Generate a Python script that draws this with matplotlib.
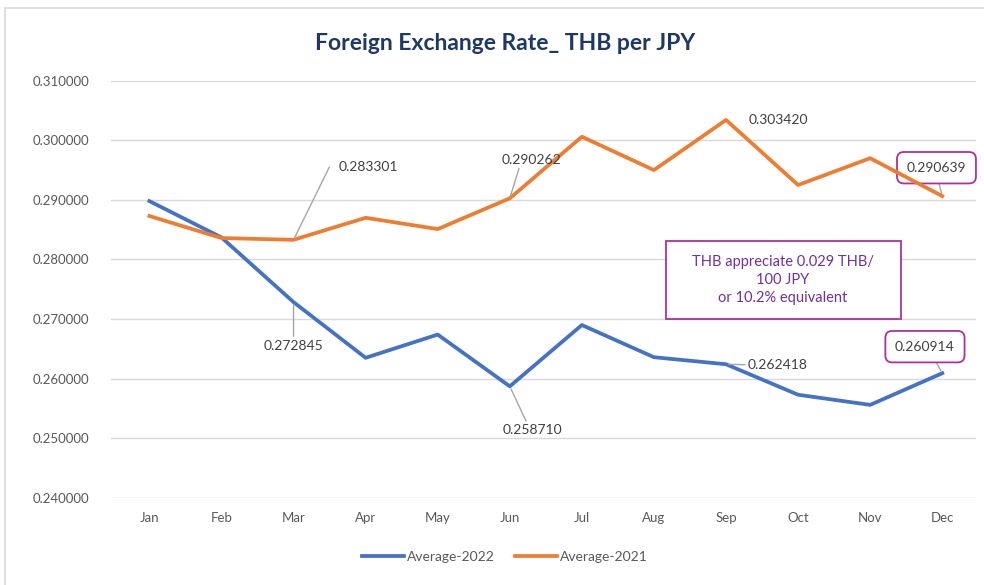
import numpy as np
import matplotlib.pyplot as plt
from matplotlib.patches import Rectangle

plt.rcParams['font.family'] = ['Lato', 'DejaVu Sans']

# data
months = ['Jan', 'Feb', 'Mar', 'Apr', 'May', 'Jun', 'Jul', 'Aug', 'Sep', 'Oct', 'Nov', 'Dec']
avg_2022 = [0.28980, 0.28370, 0.272845, 0.26350, 0.26740, 0.258710,
            0.26900, 0.26360, 0.262418, 0.25730, 0.25560, 0.260914]
avg_2021 = [0.28730, 0.28360, 0.283301, 0.28700, 0.28510, 0.290262,
            0.30060, 0.29500, 0.303420, 0.29250, 0.29700, 0.290639]
yticks = [0.24, 0.25, 0.26, 0.27, 0.28, 0.29, 0.30, 0.31]

blue = '#4472C4'
orange = '#ED7D31'
grey_txt = '#595959'
box_col = '#B0309A'

fig = plt.figure(figsize=(9.84, 5.85), dpi=100)
ax = fig.add_axes([0.113, 0.149, 0.879, 0.713])

# light outer frame like the excel chart area
fig.patches.append(Rectangle((0.005, -0.01), 1.1, 0.997, transform=fig.transFigure,
                             fill=False, edgecolor='#D9D9D9', lw=1.2))

x = np.arange(len(months))
ax.plot(x, avg_2022, color=blue, lw=2.7, label='Average-2022', solid_joinstyle='round')
ax.plot(x, avg_2021, color=orange, lw=2.7, label='Average-2021', solid_joinstyle='round')

ax.set_xlim(-0.53, 11.47)
ax.set_ylim(0.24, 0.31)
ax.set_yticks(yticks)
ax.set_yticklabels(['%.6f' % v for v in yticks], color=grey_txt, fontsize=9.5)
ax.set_xticks(x)
ax.set_xticklabels(months, color=grey_txt, fontsize=9.5)
ax.tick_params(length=0, pad=10)
ax.tick_params(axis='y', pad=16)
ax.grid(axis='y', color='#D9D9D9', lw=1)
ax.set_axisbelow(True)
for s in ax.spines.values():
    s.set_visible(False)

fig.text(0.513, 0.925, 'Foreign Exchange Rate_ THB per JPY', ha='center', va='center',
         fontsize=16.5, fontweight='bold', color='#1F3864')

lead = dict(arrowstyle='-', color='#A6A6A6', lw=1, shrinkA=0, shrinkB=2)
lab = dict(fontsize=10, color='#404040')

ax.annotate('%.6f' % avg_2021[2], xy=(2, avg_2021[2]), xytext=(2.62, 0.2955),
            ha='left', va='center', arrowprops=dict(lead, relpos=(-0.15, 0.5)), **lab)
ax.annotate('%.6f' % avg_2022[2], xy=(2, avg_2022[2]), xytext=(2.0, 0.26549),
            ha='center', va='center', arrowprops=dict(lead, relpos=(0.5, 1.3)), **lab)
ax.annotate('%.6f' % avg_2021[5], xy=(5, avg_2021[5]), xytext=(5.30, 0.29675),
            ha='center', va='center', arrowprops=dict(lead, relpos=(0.3, -0.1)), **lab)
ax.annotate('%.6f' % avg_2022[5], xy=(5, avg_2022[5]), xytext=(5.31, 0.25144),
            ha='center', va='center', arrowprops=dict(lead, relpos=(0.4, 1.2)), **lab)
ax.annotate('%.6f' % avg_2021[8], xy=(8, avg_2021[8]), xytext=(8.72, 0.30346),
            ha='center', va='center', **lab)
ax.annotate('%.6f' % avg_2022[8], xy=(8, avg_2022[8]), xytext=(8.72, 0.26235),
            ha='center', va='center', arrowprops=dict(lead, relpos=(-0.05, 0.5)), **lab)

boxed = dict(boxstyle='round,pad=0.7,rounding_size=0.5', fc='white', ec=box_col, lw=1.3)
ax.annotate('%.6f' % avg_2021[11], xy=(11, avg_2021[11]), xytext=(10.92, 0.29540),
            ha='center', va='center', bbox=boxed,
            arrowprops=dict(lead, relpos=(0.5, 0)), zorder=1, **lab)
ax.annotate('%.6f' % avg_2022[11], xy=(11, avg_2022[11]), xytext=(10.76, 0.26537),
            ha='center', va='center', bbox=boxed,
            arrowprops=dict(lead, relpos=(0.6, 0)), **lab)

# comment box
ax.add_patch(Rectangle((7.17, 0.27007), 3.26, 0.01308, fill=True, fc='white',
                       ec=box_col, lw=1.3, zorder=3))
ax.text(8.79, 0.2766, 'THB appreciate 0.029 THB/\n100 JPY\nor 10.2% equivalent',
        ha='center', va='center', fontsize=10.5, color='#7030A0', linespacing=1.35, zorder=4)

fig.legend(loc='center', bbox_to_anchor=(0.513, 0.048), ncol=2, frameon=False,
           fontsize=10, labelcolor=grey_txt, handlelength=3, handletextpad=0.2,
           columnspacing=1.5)

fig.savefig('out.png', dpi=100)
